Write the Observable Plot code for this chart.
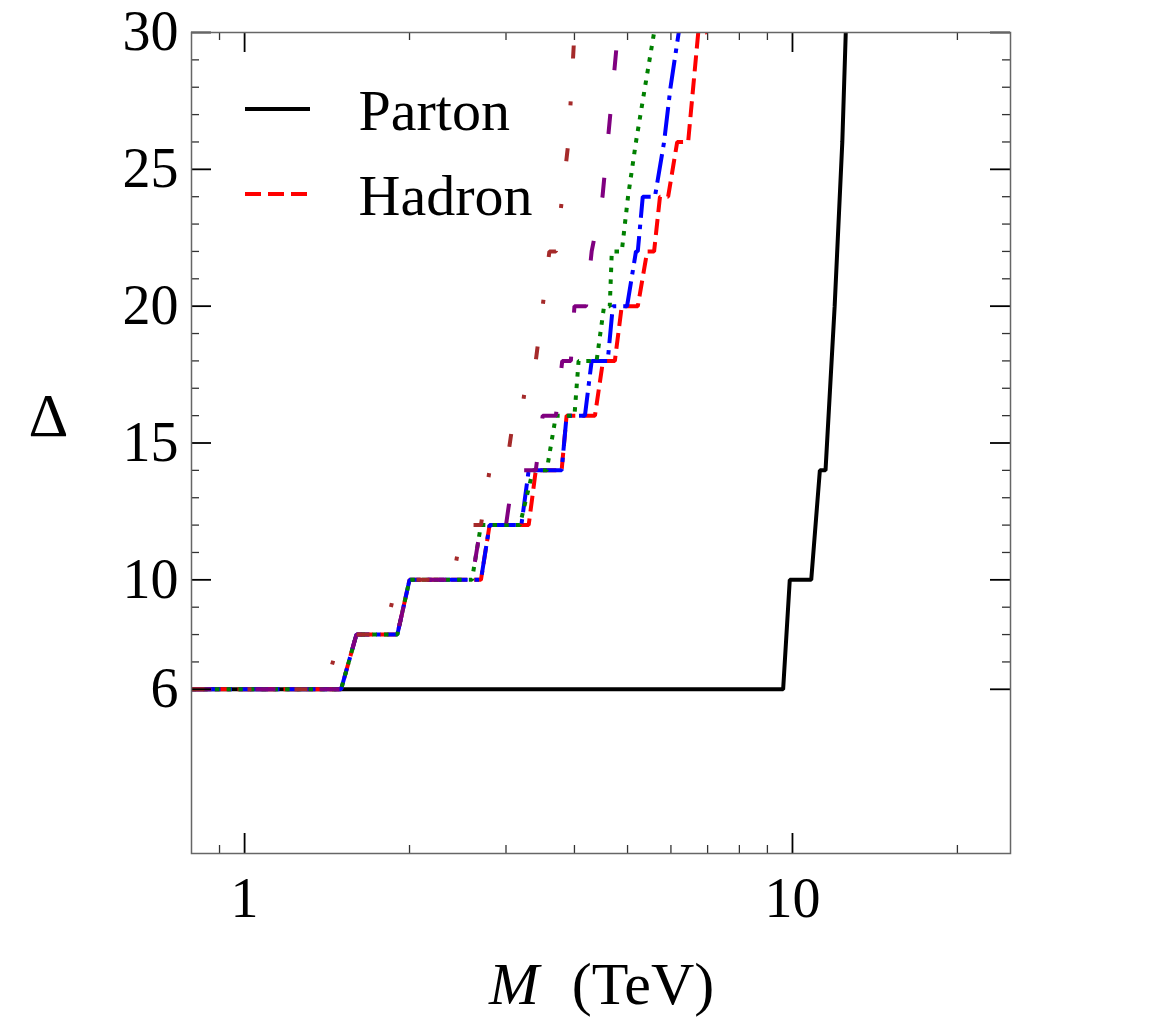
<!DOCTYPE html>
<html>
<head>
<meta charset="utf-8">
<script src="https://cdn.jsdelivr.net/npm/d3@7"></script>
<script src="https://cdn.jsdelivr.net/npm/@observablehq/plot@0.6"></script>
<style>
  html, body { margin: 0; padding: 0; background: #ffffff; }
  #chart svg { display: block; }
</style>
</head>
<body>
<div id="chart"></div>
<script>
// ---- Data (M in TeV, Δ) ----
const partonM = [0.8, 9.615, 9.887, 10.82, 11.22, 11.49, 11.94, 12.33, 12.51];
const partonD = [6, 6, 10, 10, 14, 14, 20, 26, 30];

const hadronM = [0.8, 1.5, 1.6, 1.9, 2.0, 2.7, 2.8, 3.3, 3.4, 3.79, 3.87, 4.36, 4.51, 4.74, 4.88, 5.22, 5.43, 5.59, 5.73, 5.93, 6.16, 6.45, 6.73, 6.96, 7.08];
const hadronD = [6, 6, 8, 8, 10, 10, 12, 12, 14, 14, 16, 16, 18, 18, 20, 20, 22, 22, 24, 24, 26, 26, 30, 30, 32];

const blueM = [0.8, 1.5, 1.6, 1.9, 2.0, 2.7, 2.8, 3.2, 3.3, 3.79, 3.87, 4.18, 4.30, 4.60, 4.70, 4.99, 5.18, 5.22, 5.33, 5.61, 5.83, 5.99, 6.20, 6.29];
const blueD = [6, 6, 8, 8, 10, 10, 12, 12, 14, 14, 16, 16, 18, 18, 20, 20, 22, 22, 24, 24, 26, 28, 30, 31];

const greenM = [0.8, 1.5, 1.6, 1.9, 2.0, 2.6, 2.7, 3.18, 3.36, 3.56, 3.70, 4.0, 4.07, 4.39, 4.53, 4.64, 4.68, 4.88, 5.01, 5.18, 5.38, 5.59, 5.65];
const greenD = [6, 6, 8, 8, 10, 10, 12, 12, 14, 14, 16, 16, 18, 18, 20, 20, 22, 22, 24, 26, 28, 30, 31];

const purpleM = [0.8, 1.5, 1.6, 1.9, 2.0, 2.6, 2.7, 3.0, 3.1, 3.4, 3.5, 3.7, 3.8, 3.94, 4.0, 4.2, 4.3, 4.5, 4.6, 4.7, 4.8, 4.9];
const purpleD = [6, 6, 8, 8, 10, 10, 12, 12, 14, 14, 16, 16, 18, 18, 20, 20, 22, 24, 26, 28, 30, 32];

const brownM = [0.8, 1.4, 1.5, 1.8, 1.9, 2.4, 2.5, 2.7, 2.8, 3.0, 3.1, 3.2, 3.3, 3.4, 3.5, 3.6, 3.7, 3.8, 3.9, 3.95, 4.0, 4.05];
const brownD = [6, 6, 8, 8, 10, 10, 12, 12, 14, 14, 16, 16, 18, 18, 20, 22, 22, 24, 26, 28, 30, 32];

// ---- Ticks ----
const xMajor = [1, 10];
const xMinor = [0.9, 2, 3, 4, 5, 6, 7, 8, 9, 20];
const yMajor = [6, 10, 15, 20, 25, 30];
const yMinor = [7, 8, 9, 11, 12, 13, 14, 16, 17, 18, 19, 21, 22, 23, 24, 26, 27, 28, 29];
const xTickLabels = ["1", "10"];
const yTickLabels = ["6", "10", "15", "20", "25", "30"];

const legendLabels = ["Parton", "Hadron"];

// ---- Series styling (drawing order: first is bottom) ----
const series = [
  {M: partonM, D: partonD, color: "#000000", dash: null},
  {M: hadronM, D: hadronD, color: "#ff0000", dash: "16,7"},
  {M: blueM,   D: blueD,   color: "#0000ff", dash: "29,7,4.5,7"},
  {M: greenM,  D: greenD,  color: "#008000", dash: "4.5,7.2"},
  {M: purpleM, D: purpleD, color: "#800080", dash: "20,44"},
  {M: brownM,  D: brownD,  color: "#a52a2a", dash: "13,43,4,43"}
];
const rows = s => s.M.map((m, i) => ({M: m, D: s.D[i]}));

const W = 1165, H = 1019;
const mL = 191, mR = 155, mT = 32, mB = 166;
const fw = W - mL - mR;
const fh = H - mT - mB;
const font = "'Liberation Serif', 'DejaVu Serif', serif";
const LW = 4;

const marks = [];
series.forEach(s => {
  marks.push(Plot.line(rows(s), {
    x: "M", y: "D", stroke: s.color, strokeWidth: LW,
    strokeDasharray: s.dash, strokeLinecap: "butt", strokeLinejoin: "miter",
    clip: true
  }));
});

// inward ticks on all four sides
const majW = 1.8, minW = 1.3;
marks.push(
  Plot.ruleX(xMajor, {x: d => d, insetTop: fh - 20, stroke: "#000", strokeWidth: majW}),
  Plot.ruleX(xMajor, {x: d => d, insetBottom: fh - 20, stroke: "#000", strokeWidth: majW}),
  Plot.ruleX(xMinor, {x: d => d, insetTop: fh - 8, stroke: "#333", strokeWidth: minW}),
  Plot.ruleX(xMinor, {x: d => d, insetBottom: fh - 8, stroke: "#333", strokeWidth: minW}),
  Plot.ruleY(yMajor, {y: d => d, insetRight: fw - 20, stroke: "#000", strokeWidth: majW}),
  Plot.ruleY(yMajor, {y: d => d, insetLeft: fw - 20, stroke: "#000", strokeWidth: majW}),
  Plot.ruleY(yMinor, {y: d => d, insetRight: fw - 8, stroke: "#333", strokeWidth: minW}),
  Plot.ruleY(yMinor, {y: d => d, insetLeft: fw - 8, stroke: "#333", strokeWidth: minW}),
  Plot.frame({stroke: "#666", strokeWidth: 1.5}),
  Plot.axisX({ticks: xMajor, tickSize: 0, tickPadding: 24, fontSize: 56,
    tickFormat: d => xTickLabels[xMajor.indexOf(d)], label: null}),
  Plot.axisY({ticks: yMajor, tickSize: 0, tickPadding: 13, fontSize: 56,
    tickFormat: d => yTickLabels[yMajor.indexOf(d)], label: null}),
  // axis titles
  Plot.text(["Δ"], {frameAnchor: "left", dx: -143, dy: -27, fontSize: 62, fill: "#000",
    textAnchor: "middle", lineAnchor: "middle"}),
  Plot.text(["M"], {frameAnchor: "bottom", dx: -87, dy: 131, fontSize: 60, fontStyle: "italic", fill: "#000",
    textAnchor: "middle", lineAnchor: "middle"}),
  Plot.text(["(TeV)"], {frameAnchor: "bottom", dx: 42, dy: 131, fontSize: 60, fill: "#000",
    textAnchor: "middle", lineAnchor: "middle"}),
  // legend labels
  Plot.text([legendLabels[0]], {frameAnchor: "top-left", dx: 167, dy: 79, fontSize: 58,
    textAnchor: "start", lineAnchor: "middle", fill: "#000"}),
  Plot.text([legendLabels[1]], {frameAnchor: "top-left", dx: 167, dy: 164, fontSize: 58,
    textAnchor: "start", lineAnchor: "middle", fill: "#000"})
);

const plot = Plot.plot({
  width: W, height: H,
  marginLeft: mL, marginRight: mR, marginTop: mT, marginBottom: mB,
  style: {fontFamily: font, background: "#ffffff", color: "#000"},
  x: {type: "log", domain: [0.8, 25]},
  y: {domain: [0, 30]},
  marks
});
document.getElementById("chart").appendChild(plot);

// legend line samples
const svg = d3.select(plot);
const legendSwatches = [
  {y: mT + 77, color: series[0].color, dash: series[0].dash},
  {y: mT + 162, color: series[1].color, dash: series[1].dash}
];
svg.append("g").selectAll("line").data(legendSwatches).join("line")
  .attr("x1", mL + 54).attr("x2", mL + 119)
  .attr("y1", d => d.y).attr("y2", d => d.y)
  .attr("stroke", d => d.color).attr("stroke-width", LW)
  .attr("stroke-dasharray", d => d.dash)
  .attr("stroke-linecap", "butt");
</script>
</body>
</html>
